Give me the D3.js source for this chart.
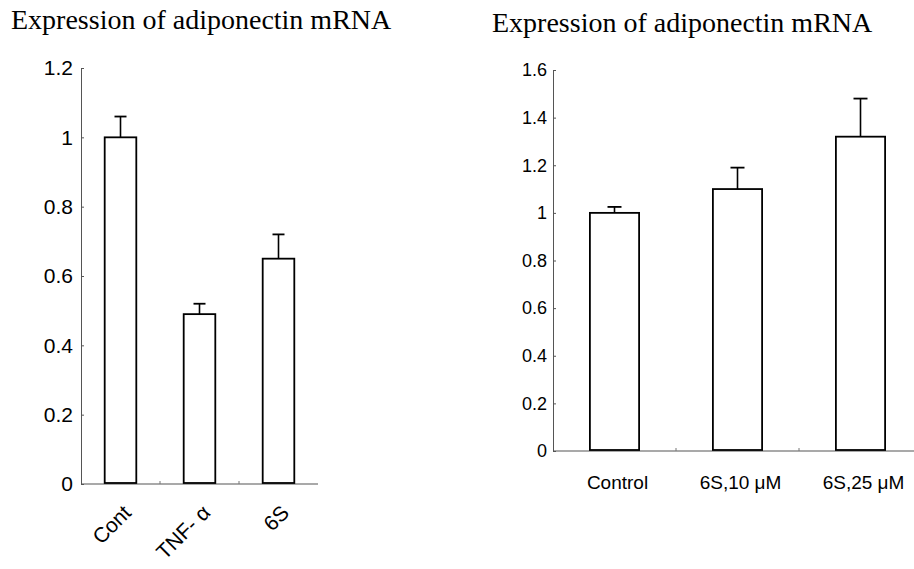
<!DOCTYPE html>
<html><head><meta charset="utf-8">
<script src="https://cdn.jsdelivr.net/npm/d3@7"></script>
<style>body{margin:0;background:#fff}</style>
</head><body><svg id="c" width="914" height="569"></svg>
<script>
const titleText = "Expression of adiponectin mRNA";
const leftCategories = ["Cont", "TNF- α", "6S"];
const leftValues = [1.0, 0.49, 0.65];
const leftErrors = [0.06, 0.03, 0.07];
const leftTicks = [0, 0.2, 0.4, 0.6, 0.8, 1, 1.2];
const rightCategories = ["Control", "6S,10 μM", "6S,25 μM"];
const rightValues = [1.0, 1.10, 1.32];
const rightErrors = [0.025, 0.09, 0.16];
const rightTicks = [0, 0.2, 0.4, 0.6, 0.8, 1, 1.2, 1.4, 1.6];

const svg = d3.select("#c");

function panel(opt){
  const g = svg.append("g");
  g.append("text").attr("x", opt.titleX).attr("y", opt.titleY)
    .attr("font-family", "'Liberation Serif','Times New Roman',serif")
    .attr("font-size", 28).attr("fill", "#000").text(titleText);
  const x = d3.scaleBand().domain(opt.cats).range([opt.x0, opt.x1])
    .paddingInner(0.6).paddingOuter(0.3);
  const y = d3.scaleLinear().domain([0, opt.max]).range([opt.y0, opt.y1]);
  const ax = g.append("g").attr("transform", `translate(${opt.x0},0)`)
    .call(d3.axisLeft(y).tickValues(opt.ticks).tickFormat(d3.format("~g"))
      .tickSizeInner(-3).tickSizeOuter(0).tickPadding(opt.pad));
  ax.select(".domain").attr("stroke", "#555");
  ax.selectAll(".tick line").attr("stroke", "#555");
  ax.selectAll(".tick text").attr("font-family", "'Liberation Sans',Arial,sans-serif")
    .attr("font-size", opt.tickFs).attr("font-weight", opt.tickW).attr("fill", "#000");
  g.append("line").attr("x1", opt.x0).attr("x2", opt.baseEnd)
    .attr("y1", y(0)).attr("y2", y(0)).attr("stroke", "#555").attr("stroke-width", 1.2);
  opt.cats.slice(1).forEach(c => {
    const bx = x(c) - x.step() * x.paddingInner() / 2;
    g.append("line").attr("x1", bx).attr("x2", bx).attr("y1", y(0)).attr("y2", y(0) - 3)
      .attr("stroke", "#777");
  });
  const data = opt.cats.map((c, i) => ({c, v: opt.vals[i], e: opt.errs[i]}));
  const eb = g.selectAll(".eb").data(data).enter().append("g");
  eb.append("line").attr("x1", d => x(d.c) + x.bandwidth()/2).attr("x2", d => x(d.c) + x.bandwidth()/2)
    .attr("y1", d => y(d.v)).attr("y2", d => y(d.v + d.e)).attr("stroke", "#000").attr("stroke-width", 1.6);
  eb.append("line").attr("x1", d => x(d.c) + x.bandwidth()/2 - opt.cap).attr("x2", d => x(d.c) + x.bandwidth()/2 + opt.cap)
    .attr("y1", d => y(d.v + d.e)).attr("y2", d => y(d.v + d.e)).attr("stroke", "#000").attr("stroke-width", 1.8);
  g.selectAll(".bar").data(data).enter().append("rect")
    .attr("x", d => x(d.c)).attr("width", x.bandwidth())
    .attr("y", d => y(d.v)).attr("height", d => y(0) - y(d.v) - 1)
    .attr("fill", "#fff").attr("stroke", "#000").attr("stroke-width", 1.8);
  return {g, x, y};
}

const L = panel({titleX: 11, titleY: 29, cats: leftCategories, vals: leftValues, errs: leftErrors,
  ticks: leftTicks, max: 1.2, x0: 81, x1: 318, baseEnd: 318, y0: 484, y1: 68, pad: 8,
  tickFs: 21, tickW: "normal", cap: 6});
L.g.selectAll(".xl").data(leftCategories).enter().append("text")
  .attr("transform", d => `translate(${L.x(d) + L.x.bandwidth()/2 + 12},${514}) rotate(-45)`)
  .attr("text-anchor", "end")
  .attr("font-family", "'Liberation Sans',Arial,sans-serif").attr("font-size", 21).attr("fill", "#000")
  .text(d => d);

const R = panel({titleX: 492, titleY: 32, cats: rightCategories, vals: rightValues, errs: rightErrors,
  ticks: rightTicks, max: 1.6, x0: 553, x1: 922, baseEnd: 914, y0: 451, y1: 70, pad: 6,
  tickFs: 18, tickW: "normal", cap: 7});
R.g.selectAll(".xl").data(rightCategories).enter().append("text")
  .attr("x", d => R.x(d) + R.x.bandwidth()/2 + 3).attr("y", 489)
  .attr("text-anchor", "middle")
  .attr("font-family", "'Liberation Sans',Arial,sans-serif").attr("font-size", 19).attr("fill", "#000")
  .text(d => d);
</script></body></html>
